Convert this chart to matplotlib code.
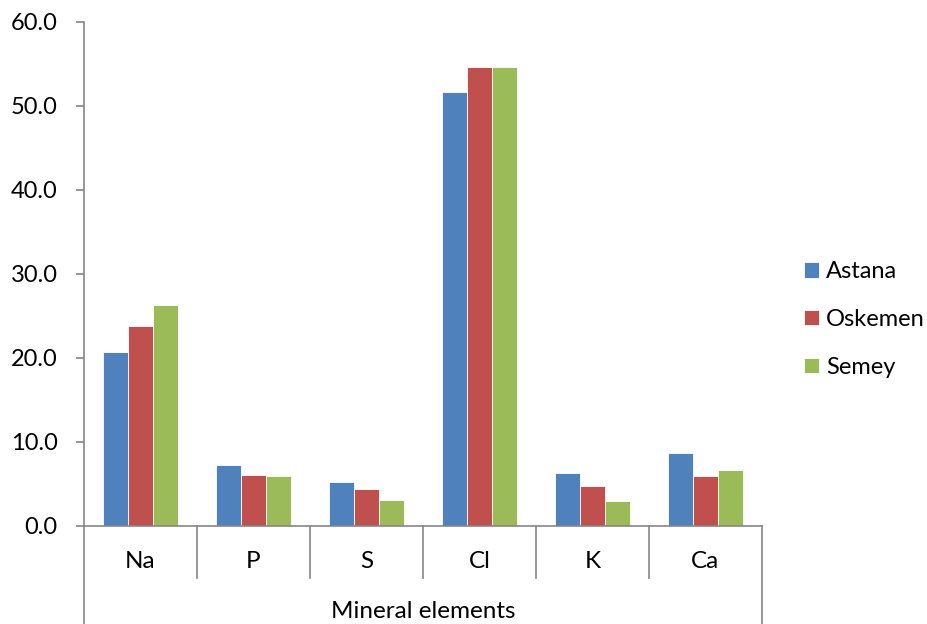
import matplotlib
matplotlib.use("Agg")
import matplotlib.pyplot as plt
import numpy as np

plt.rcParams['font.family'] = ['Lato', 'DejaVu Sans']

categories = ["Na", "P", "S", "Cl", "K", "Ca"]
astana = [20.7, 7.3, 5.2, 51.7, 6.3, 8.7]
oskemen = [23.8, 6.1, 4.4, 54.6, 4.8, 6.0]
semey = [26.3, 6.0, 3.1, 54.6, 3.0, 6.7]
series_names = ["Astana", "Oskemen", "Semey"]
colors = ["#4F81BD", "#C0504D", "#9BBB59"]
y_ticks = [0, 10, 20, 30, 40, 50, 60]
x_title = "Mineral elements"

fig = plt.figure(figsize=(9.28, 6.24), dpi=100)
ax = fig.add_axes([84/928, 1-526/624, (762-84)/928, (526-22)/624])

x = np.arange(len(categories))
w = 1/4.5
for i, (vals, name, c) in enumerate(zip([astana, oskemen, semey], series_names, colors)):
    ax.bar(x + (i-1)*w, vals, width=w, color=c, edgecolor='white', linewidth=0.6, label=name, zorder=2)

ax.set_xlim(-0.5, len(categories)-0.5)
ax.set_ylim(0, 60)
ax.set_yticks(y_ticks)
ax.set_yticklabels([f"{v:.1f}" for v in y_ticks], fontsize=17, color='black')
ax.tick_params(axis='y', direction='out', length=6, width=1.2, color='#868686', pad=13)
ax.set_xticks([])
for s in ['top', 'right']:
    ax.spines[s].set_visible(False)
ax.spines['left'].set_color('#868686')
ax.spines['left'].set_linewidth(1.2)
ax.spines['bottom'].set_color('#868686')
ax.spines['bottom'].set_linewidth(1.2)

trans = ax.get_xaxis_transform()
axh = 504.0
for b in np.arange(len(categories)+1) - 0.5:
    if b == -0.5 or b == len(categories)-0.5:
        ax.plot([b, b], [0, -(624-526)/axh], transform=trans, color='#868686', lw=1.2, clip_on=False)
    else:
        ax.plot([b, b], [0, -(578-526)/axh], transform=trans, color='#868686', lw=1.2, clip_on=False)
for xi, cat in zip(x, categories):
    ax.text(xi, -(561-526)/axh, cat, transform=trans, ha='center', va='center', fontsize=17.5)
ax.text((len(categories)-1)/2, -(611-526)/axh, x_title, transform=trans, ha='center', va='center', fontsize=17.5)

leg = fig.legend(loc='upper left', bbox_to_anchor=(795/928, 1-252/624), frameon=False,
                 fontsize=17, handlelength=0.62, handleheight=0.62, handletextpad=0.3,
                 labelspacing=1.13, borderaxespad=0, borderpad=0.4)

fig.savefig("out.png", dpi=100)
